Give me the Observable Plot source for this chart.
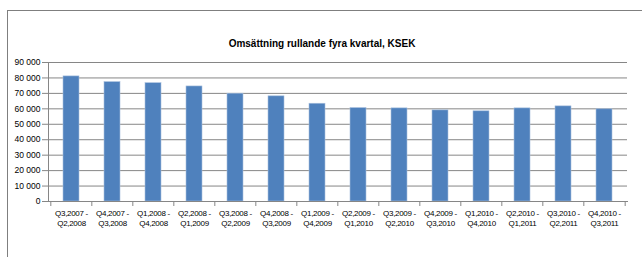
<!DOCTYPE html>
<html>
<head>
<meta charset="utf-8">
<script src="https://cdn.jsdelivr.net/npm/d3@7"></script>
<script src="https://cdn.jsdelivr.net/npm/@observablehq/plot@0.6"></script>
<style>
  html, body { margin: 0; padding: 0; background: #fff; }
  #wrap { position: relative; width: 642px; height: 257px; overflow: hidden; }
  #border { position: absolute; left: 7px; top: 10px; width: 700px; height: 300px;
            border-top: 1.5px solid #7f7f7f; border-left: 1.5px solid #7f7f7f; }
  #chart { position: absolute; left: 0; top: 0; }
  #chart g[aria-label="x-axis tick label"] text { letter-spacing: -0.3px; }
</style>
</head>
<body>
<div id="wrap"><div id="border"></div><div id="chart"></div></div>
<script>
const title = "Omsättning rullande fyra kvartal, KSEK";
const periods = [
  "Q3,2007 -\nQ2,2008", "Q4,2007 -\nQ3,2008", "Q1,2008 -\nQ4,2008", "Q2,2008 -\nQ1,2009",
  "Q3,2008 -\nQ2,2009", "Q4,2008 -\nQ3,2009", "Q1,2009 -\nQ4,2009", "Q2,2009 -\nQ1,2010",
  "Q3,2009 -\nQ2,2010", "Q4,2009 -\nQ3,2010", "Q1,2010 -\nQ4,2010", "Q2,2010 -\nQ1,2011",
  "Q3,2010 -\nQ2,2011", "Q4,2010 -\nQ3,2011"
];
const values = [81000, 77300, 76600, 74500, 69800, 68100, 63300, 60500, 60300, 59000, 58400, 60300, 61600, 59700];
const yTicks = [0, 10000, 20000, 30000, 40000, 50000, 60000, 70000, 80000, 90000];

const data = periods.map((p, i) => ({period: p, value: values[i]}));

const W = 642, H = 257, mL = 48, mR = 15, mT = 62, mB = 56;
const step = (W - mL - mR) / periods.length;
const fmt = d => d3.format(",")(d).replace(/,/g, " ");
const font = "'Liberation Sans', Arial, sans-serif";

const chart = Plot.plot({
  width: W, height: H,
  marginLeft: mL, marginRight: mR, marginTop: mT, marginBottom: mB,
  style: {fontFamily: font, fontSize: "8px", color: "#000", background: "transparent"},
  x: {domain: periods, paddingInner: 0.6, paddingOuter: 0.3, label: null},
  y: {domain: [0, 90000], label: null},
  marks: [
    Plot.gridY(yTicks, {stroke: "#868686", strokeOpacity: 1, strokeWidth: 1}),
    Plot.barY(data, {x: "period", y: "value", fill: "#4F81BD", stroke: "#a9c0de", strokeWidth: 0.6}),
    Plot.frame({anchor: "left", stroke: "#868686"}),
    Plot.frame({anchor: "bottom", stroke: "#868686"}),
    Plot.axisY(yTicks, {tickFormat: fmt, tickSize: 6, tickPadding: 2, stroke: "#868686", fill: "#000", fontSize: 8.5}),
    Plot.axisX({tickSize: 0, tickPadding: 7, lineHeight: 1.25, fill: "#000", fontSize: 8}),
    Plot.ruleX(periods, {x: d => d, dx: -step / 2, insetTop: H - mT - mB, insetBottom: -5, stroke: "#868686"}),
    Plot.ruleX([periods[periods.length - 1]], {x: d => d, dx: step / 2, insetTop: H - mT - mB, insetBottom: -5, stroke: "#868686"}),
    Plot.text([title], {frameAnchor: "top", dy: -23, dx: -16, fontWeight: "bold", fontSize: 10, fill: "#000"})
  ]
});
document.getElementById("chart").appendChild(chart);
</script>
</body>
</html>
